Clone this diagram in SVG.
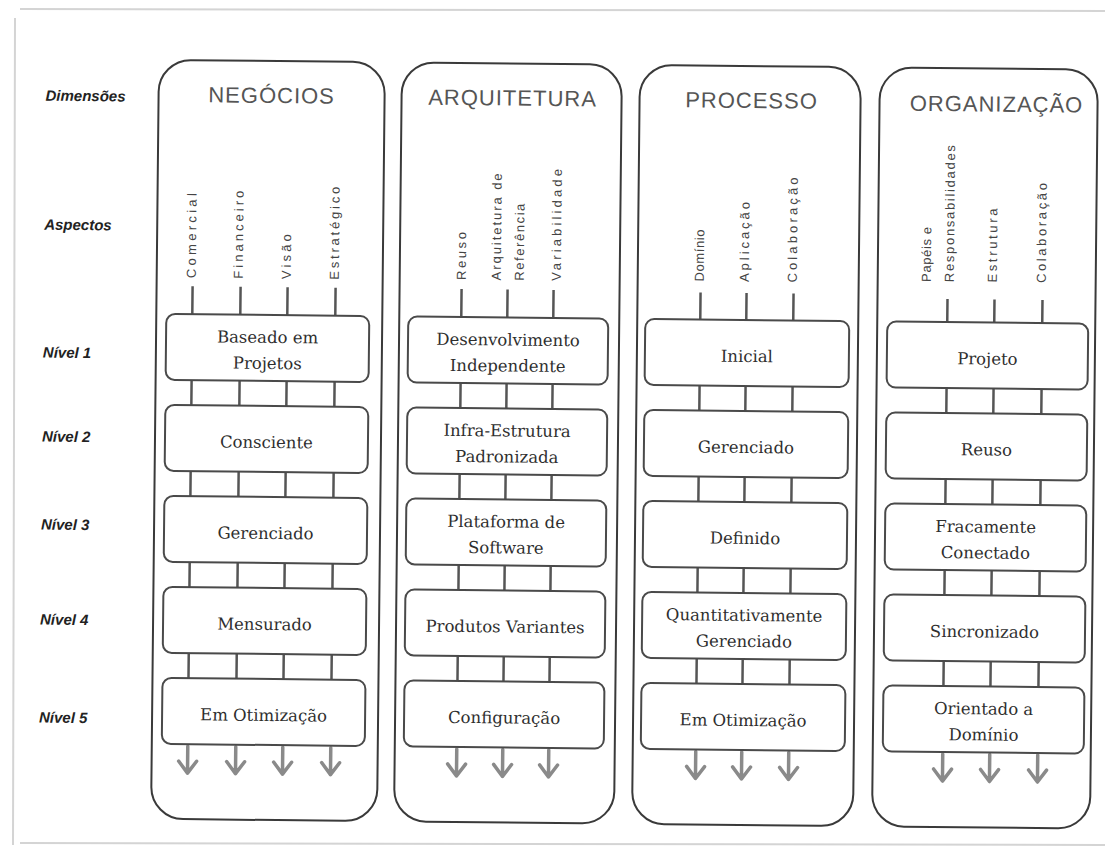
<svg xmlns="http://www.w3.org/2000/svg" width="1113" height="850" viewBox="0 0 1113 850">
  <style>
    .outer { fill: none; stroke: #3a3a3a; stroke-width: 2; }
    .box { fill: #fff; stroke: #4a4a4a; stroke-width: 2; }
    .link { fill: none; stroke: #555; stroke-width: 2.5; }
    .arrow { fill: none; stroke: #8a8a8a; stroke-width: 3.5; stroke-linecap: round; stroke-linejoin: round; }
    .title { font-family: "Liberation Sans", Arial, sans-serif; font-size: 22px; fill: #555; text-anchor: middle; letter-spacing: 1px; }
    .aspect { font-family: "Liberation Sans", Arial, sans-serif; font-size: 13px; fill: #444; }
    .lvl { font-family: "DejaVu Serif", serif; font-size: 16.5px; fill: #2e2e2e; text-anchor: middle; }
    .side { font-family: "Liberation Sans", Arial, sans-serif; font-size: 15px; font-weight: bold; font-style: italic; fill: #222; }
    .edge { stroke: #d4d4d4; stroke-width: 2; fill: none; }
  </style>

  <rect width="1113" height="850" fill="#fff"/>
  <!-- page edges -->
  <path class="edge" d="M15 18 L13 845 M20 9 L1105 11 M20 843 L1105 845"/>

  <g transform="rotate(0.6 556 440)">
    <!-- row / header labels -->
    <g id="side-labels">
      <text class="side" x="42" y="106">Dimensões</text>
      <text class="side" x="42" y="235">Aspectos</text>
      <text class="side" x="42" y="363">Nível 1</text>
      <text class="side" x="42" y="447">Nível 2</text>
      <text class="side" x="42" y="535">Nível 3</text>
      <text class="side" x="42" y="630">Nível 4</text>
      <text class="side" x="42" y="728">Nível 5</text>
    </g>

    <!-- dimension columns -->
    <g id="dim-negocios">
      <rect class="outer" x="155" y="64" width="226" height="759" rx="32"/>
      <text class="title" x="268" y="106">NEGÓCIOS</text>
      <g id="asp-negocios">
        <text class="aspect" transform="translate(194 282) rotate(-90)" textLength="85">Comercial</text>
        <text class="aspect" transform="translate(241 282) rotate(-90)" textLength="88">Financeiro</text>
        <text class="aspect" transform="translate(289 282) rotate(-90)" textLength="45">Visão</text>
        <text class="aspect" transform="translate(337 282) rotate(-90)" textLength="93">Estratégico</text>
      </g>
    </g>
    <g id="dim-arquitetura">
      <rect class="outer" x="398" y="64" width="220" height="759" rx="32"/>
      <text class="title" x="509" y="106">ARQUITETURA</text>
      <g id="asp-arquitetura">
        <text class="aspect" transform="translate(464 281) rotate(-90)" textLength="48">Reuso</text>
        <text class="aspect" transform="translate(499 281) rotate(-90)" textLength="107">Arquitetura de</text>
        <text class="aspect" transform="translate(522 281) rotate(-90)" textLength="77">Referência</text>
        <text class="aspect" transform="translate(559 281) rotate(-90)" textLength="112">Variabilidade</text>
      </g>
    </g>
    <g id="dim-processo">
      <rect class="outer" x="636" y="64" width="221" height="759" rx="32"/>
      <text class="title" x="748" y="106">PROCESSO</text>
      <g id="asp-processo">
        <text class="aspect" transform="translate(702 280) rotate(-90)" textLength="52">Domínio</text>
        <text class="aspect" transform="translate(747 280) rotate(-90)" textLength="80">Aplicação</text>
        <text class="aspect" transform="translate(795 280) rotate(-90)" textLength="105">Colaboração</text>
      </g>
    </g>
    <g id="dim-organizacao">
      <rect class="outer" x="876" y="64" width="218" height="759" rx="32"/>
      <text class="title" x="993" y="107">ORGANIZAÇÃO</text>
      <g id="asp-organizacao">
        <text class="aspect" transform="translate(929 278) rotate(-90)" textLength="55">Papéis e</text>
        <text class="aspect" transform="translate(952 278) rotate(-90)" textLength="137">Responsabilidades</text>
        <text class="aspect" transform="translate(995 278) rotate(-90)" textLength="74">Estrutura</text>
        <text class="aspect" transform="translate(1044 278) rotate(-90)" textLength="100">Colaboração</text>
      </g>
    </g>

    <!-- connectors: aspect stems, links between levels, outgoing arrows -->
    <g id="connectors">
      <path class="link" d="M191 290V318 M239 290V318 M286 290V318 M334 290V318
        M191 384V409 M239 384V409 M286 384V409 M334 384V409
        M191 475V500 M239 475V500 M286 475V500 M334 475V500
        M191 566V591 M239 566V591 M286 566V591 M334 566V591
        M191 657V682 M239 657V682 M286 657V682 M334 657V682"/>
      <path class="link" d="M460 290V318 M506 290V318 M552 290V318
        M460 384V409 M506 384V409 M552 384V409
        M460 475V500 M506 475V500 M552 475V500
        M460 566V591 M506 566V591 M552 566V591
        M460 657V682 M506 657V682 M552 657V682"/>
      <path class="link" d="M699 291V318 M745 291V318 M792 291V318
        M699 384V409 M745 384V409 M792 384V409
        M699 475V500 M745 475V500 M792 475V500
        M699 566V591 M745 566V591 M792 566V591
        M699 657V682 M745 657V682 M792 657V682"/>
      <path class="link" d="M946 295V318 M993 295V318 M1041 295V318
        M946 384V409 M993 384V409 M1041 384V409
        M946 475V500 M993 475V500 M1041 475V500
        M946 566V591 M993 566V591 M1041 566V591
        M946 657V682 M993 657V682 M1041 657V682"/>
      <path class="arrow" d="M191 750V777 M182 765L191 777L200 765
        M239 750V777 M230 765L239 777L248 765
        M286 750V777 M277 765L286 777L295 765
        M334 750V777 M325 765L334 777L343 765"/>
      <path class="arrow" d="M460 750V777 M451 765L460 777L469 765
        M506 750V777 M497 765L506 777L515 765
        M552 750V777 M543 765L552 777L561 765"/>
      <path class="arrow" d="M699 750V777 M690 765L699 777L708 765
        M745 750V777 M736 765L745 777L754 765
        M792 750V777 M783 765L792 777L801 765"/>
      <path class="arrow" d="M946 750V777 M937 765L946 777L955 765
        M993 750V777 M984 765L993 777L1002 765
        M1041 750V777 M1032 765L1041 777L1050 765"/>
    </g>

    <!-- level boxes: NEGÓCIOS -->
    <g id="neg-n1"><rect class="box" x="165" y="318" width="203" height="66" rx="9"/><text class="lvl" x="266.5" y="346">Baseado em</text><text class="lvl" x="266.5" y="372">Projetos</text></g>
    <g id="neg-n2"><rect class="box" x="165" y="409" width="203" height="66" rx="9"/><text class="lvl" x="266.5" y="451">Consciente</text></g>
    <g id="neg-n3"><rect class="box" x="165" y="500" width="203" height="66" rx="9"/><text class="lvl" x="266.5" y="542">Gerenciado</text></g>
    <g id="neg-n4"><rect class="box" x="165" y="591" width="203" height="66" rx="9"/><text class="lvl" x="266.5" y="633">Mensurado</text></g>
    <g id="neg-n5"><rect class="box" x="165" y="682" width="203" height="66" rx="9"/><text class="lvl" x="266.5" y="724">Em Otimização</text></g>

    <!-- level boxes: ARQUITETURA -->
    <g id="arq-n1"><rect class="box" x="407" y="318" width="200" height="66" rx="9"/><text class="lvl" x="507" y="346">Desenvolvimento</text><text class="lvl" x="507" y="372">Independente</text></g>
    <g id="arq-n2"><rect class="box" x="407" y="409" width="200" height="66" rx="9"/><text class="lvl" x="507" y="437">Infra-Estrutura</text><text class="lvl" x="507" y="463">Padronizada</text></g>
    <g id="arq-n3"><rect class="box" x="407" y="500" width="200" height="66" rx="9"/><text class="lvl" x="507" y="528">Plataforma de</text><text class="lvl" x="507" y="554">Software</text></g>
    <g id="arq-n4"><rect class="box" x="407" y="591" width="200" height="66" rx="9"/><text class="lvl" x="507" y="633">Produtos Variantes</text></g>
    <g id="arq-n5"><rect class="box" x="407" y="682" width="200" height="66" rx="9"/><text class="lvl" x="507" y="724">Configuração</text></g>

    <!-- level boxes: PROCESSO -->
    <g id="pro-n1"><rect class="box" x="644" y="318" width="204" height="66" rx="9"/><text class="lvl" x="746" y="360">Inicial</text></g>
    <g id="pro-n2"><rect class="box" x="644" y="409" width="204" height="66" rx="9"/><text class="lvl" x="746" y="451">Gerenciado</text></g>
    <g id="pro-n3"><rect class="box" x="644" y="500" width="204" height="66" rx="9"/><text class="lvl" x="746" y="542">Definido</text></g>
    <g id="pro-n4"><rect class="box" x="644" y="591" width="204" height="66" rx="9"/><text class="lvl" x="746" y="619">Quantitativamente</text><text class="lvl" x="746" y="645">Gerenciado</text></g>
    <g id="pro-n5"><rect class="box" x="644" y="682" width="204" height="66" rx="9"/><text class="lvl" x="746" y="724">Em Otimização</text></g>

    <!-- level boxes: ORGANIZAÇÃO -->
    <g id="org-n1"><rect class="box" x="886" y="318" width="201" height="66" rx="9"/><text class="lvl" x="986.5" y="360">Projeto</text></g>
    <g id="org-n2"><rect class="box" x="886" y="409" width="201" height="66" rx="9"/><text class="lvl" x="986.5" y="451">Reuso</text></g>
    <g id="org-n3"><rect class="box" x="886" y="500" width="201" height="66" rx="9"/><text class="lvl" x="986.5" y="528">Fracamente</text><text class="lvl" x="986.5" y="554">Conectado</text></g>
    <g id="org-n4"><rect class="box" x="886" y="591" width="201" height="66" rx="9"/><text class="lvl" x="986.5" y="633">Sincronizado</text></g>
    <g id="org-n5"><rect class="box" x="886" y="682" width="201" height="66" rx="9"/><text class="lvl" x="986.5" y="710">Orientado a</text><text class="lvl" x="986.5" y="736">Domínio</text></g>
  </g>
</svg>
